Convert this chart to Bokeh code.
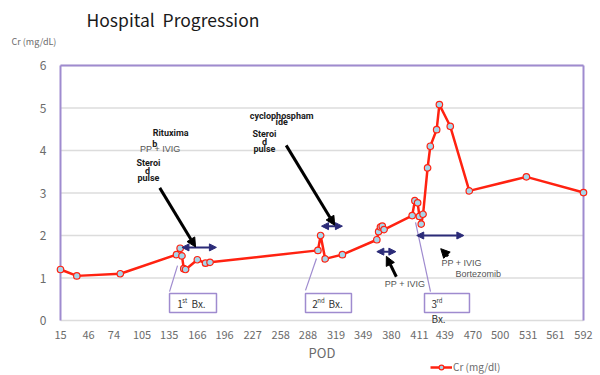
from bokeh.plotting import figure
from bokeh.embed import file_html
from bokeh.resources import INLINE
from bokeh.models import (FixedTicker, Label, Arrow, NormalHead, Legend, LegendItem,
                          ColumnDataSource, Range1d)
from bokeh.core.properties import value

# ---- data ----
pod = [15, 33, 81, 143, 147, 149, 151, 153, 166, 175, 180, 299, 302, 307, 326,
       364, 366, 368, 370, 372, 403, 406, 409, 411, 413, 415, 420, 423, 430, 433,
       445, 466, 529, 592]
cr = [1.2, 1.05, 1.1, 1.55, 1.7, 1.52, 1.22, 1.2, 1.43, 1.35, 1.37, 1.65, 2.0, 1.45, 1.55,
      1.9, 2.09, 2.2, 2.22, 2.14, 2.47, 2.82, 2.77, 2.45, 2.27, 2.5, 3.59, 4.1, 4.49, 5.08,
      4.57, 3.05, 3.38, 3.01]
x_ticks = [15, 46, 74, 105, 135, 166, 196, 227, 258, 288, 319, 349, 380, 411, 439,
           470, 500, 531, 561, 592]
y_ticks = [0, 1, 2, 3, 4, 5, 6]
x_min, x_max = 15, 592
y_min, y_max = 0, 6

# treatment periods (double arrows): start, end, level
period_start = [149, 303, 364, 408]
period_end = [187, 326, 385, 460]
period_level = [1.72, 2.22, 1.62, 2.0]

# pointer arrows: from (x0,y0) to (x1,y1)
ptr_x0 = [124.5, 264, 385.5, 442.5]
ptr_y0 = [3.12, 4.12, 1.03, 1.51]
ptr_x1 = [164, 317.5, 374.5, 434.5]
ptr_y1 = [1.73, 2.24, 1.51, 1.69]

# drug annotation texts
drug_text = ["Rituxima", "b", "Steroi", "d", "pulse",
             "cyclophospham", "ide", "Steroi", "d", "pulse"]
drug_x = [136.5, 119, 112, 111, 112, 259, 259, 240, 240, 240]
drug_y = [4.42, 4.16, 3.70, 3.51, 3.35, 4.82, 4.66, 4.39, 4.21, 4.03]

pp_text = ["PP + IVIG", "PP + IVIG", "PP + IVIG", "Bortezomib"]
pp_x = [125, 395, 457.5, 476]
pp_y = [4.04, 0.86, 1.36, 1.10]

# biopsy boxes
bx_left = [135.3, 285.3, 416.6]
bx_right = [187.1, 336.0, 466.2]
bx_bottom = [0.19, 0.19, 0.19]
bx_top = [0.635, 0.635, 0.635]
bx_num = ["1", "2", "3"]
bx_num_x = [143.7, 292.7, 424.3]
bx_sup = ["st", "nd", "rd"]
bx_sup_x = [149.3, 298.3, 429.8]
bx_word = ["Bx.", "Bx.", "Bx."]
bx_word_x = [159.5, 310.7, 424.3]
bx_word_y = [0.39, 0.39, 0.05]
# leader lines from boxes to curve
lead_x0 = [135.3, 285.3, 423.2]
lead_y0 = [0.68, 0.71, 0.68]
lead_x1 = [144.1, 297.4, 406.7]
lead_y1 = [1.29, 1.46, 2.31]

PURPLE = "#9f8bcf"
NAVY = "#2b2b78"
RED = "#ff2211"
GRAY = "#6b6b6b"
FONT = "Noto Sans CJK KR"

PX_PER_UNIT = 42.5            # vertical pixels per mg/dL
PX_PER_DAY = 523 / (x_max - x_min)
p = figure(width=600, height=375, output_backend="svg", toolbar_location=None,
           x_range=Range1d(x_min - 60 / PX_PER_DAY, x_max + 17 / PX_PER_DAY),
           y_range=Range1d(y_min - 55 / PX_PER_UNIT, y_max + 65 / PX_PER_UNIT),
           min_border_left=0, min_border_right=0, min_border_top=0, min_border_bottom=0)
p.outline_line_color = None
p.background_fill_color = "white"

# axes (fixed inside the full-canvas frame)
p.xaxis.fixed_location = y_min
p.yaxis.fixed_location = x_min
p.xaxis.ticker = FixedTicker(ticks=x_ticks)
p.yaxis.ticker = FixedTicker(ticks=y_ticks)
for ax in (p.xaxis[0], p.yaxis[0]):
    ax.major_tick_line_color = None
    ax.minor_tick_line_color = None
    ax.axis_line_color = None
    ax.major_label_text_color = GRAY
    ax.major_label_text_font = FONT
p.xaxis.major_label_text_font_size = "11px"
p.yaxis.major_label_text_font_size = "12px"
p.xaxis.major_label_standoff = 4
p.yaxis.major_label_standoff = 8
p.xgrid.visible = False
p.ygrid.visible = False

# horizontal gridlines (within the plot box)
p.segment(x0=[x_min] * len(y_ticks), y0=y_ticks, x1=[x_max] * len(y_ticks), y1=y_ticks,
          line_color="#dcdcdc", line_width=1.5)

# purple frame (left, right, top)
p.segment(x0=[x_min, x_max, x_min], y0=[y_min, y_min, y_max],
          x1=[x_min, x_max, x_max], y1=[y_max, y_max, y_max],
          line_color=PURPLE, line_width=2)

# leader lines
p.segment(x0=lead_x0, y0=lead_y0, x1=lead_x1, y1=lead_y1, line_color=PURPLE, line_width=1.2)

# biopsy boxes
p.quad(left=bx_left, right=bx_right, bottom=bx_bottom, top=bx_top,
       fill_color="white", line_color=PURPLE, line_width=1.5)
p.text(x=bx_num_x, y=[0.39, 0.39, 0.39], text=bx_num, text_font=value(FONT),
       text_font_size="10px", text_color="#333333", text_baseline="middle", text_align="left")
p.text(x=bx_sup_x, y=[0.47, 0.47, 0.47], text=bx_sup, text_font=value(FONT),
       text_font_size="6px", text_color="#333333", text_baseline="middle", text_align="left")
p.text(x=bx_word_x, y=bx_word_y, text=bx_word, text_font=value(FONT),
       text_font_size="10px", text_color="#333333", text_baseline="middle", text_align="left")

# data line
src = ColumnDataSource(dict(pod=pod, cr=cr))
ln = p.line("pod", "cr", source=src, line_color=RED, line_width=2.5)
sc = p.scatter("pod", "cr", source=src, size=6.5, fill_color="#a6d6ea",
               line_color=RED, line_width=1.2)

# period double arrows
for s, e, lv in zip(period_start, period_end, period_level):
    p.add_layout(Arrow(x_start=s, y_start=lv, x_end=e, y_end=lv,
                       line_color=NAVY, line_width=2,
                       start=NormalHead(size=7, fill_color=NAVY, line_color=NAVY),
                       end=NormalHead(size=7, fill_color=NAVY, line_color=NAVY)))

# pointer arrows
for a, b, c, d in zip(ptr_x0, ptr_y0, ptr_x1, ptr_y1):
    p.add_layout(Arrow(x_start=a, y_start=b, x_end=c, y_end=d,
                       line_color="black", line_width=3,
                       end=NormalHead(size=9, fill_color="black", line_color="black")))

# texts
p.text(x=pp_x, y=pp_y, text=pp_text, text_font=value("Liberation Sans"),
       text_font_size="9px", text_color="#555555", text_align="center", text_baseline="middle")
p.text(x=drug_x, y=drug_y, text=drug_text, text_font=value("Roboto"),
       text_font_style="bold", text_font_size="9px", text_color="#1a1a1a",
       text_align="center", text_baseline="middle")

# title, y unit label, x axis title
p.add_layout(Label(x=43.7, y=y_max + 46 / PX_PER_UNIT, text="Hospital\u00a0\u00a0Progression",
                   text_font=FONT, text_font_size="17.5px", text_color="#1a1a1a",
                   text_baseline="middle"))
p.add_layout(Label(x=x_min, x_offset=-49, y=y_max + 24 / PX_PER_UNIT, text="Cr (mg/dL)",
                   text_font=FONT, text_font_size="9px", text_color=GRAY,
                   text_baseline="middle"))
p.add_layout(Label(x=(x_min + x_max) / 2, y=y_min - 32 / PX_PER_UNIT, text="POD",
                   text_font=FONT, text_font_size="13px", text_color=GRAY,
                   text_align="center", text_baseline="middle"))

# legend
legend = Legend(items=[LegendItem(label="Cr (mg/dl)", renderers=[ln, sc])],
                location=(430, 1), orientation="horizontal",
                background_fill_alpha=0, border_line_color=None,
                padding=0, margin=0, spacing=0, glyph_width=22, glyph_height=12,
                label_height=12, label_standoff=1,
                label_text_font=FONT, label_text_font_size="10px", label_text_color=GRAY)
p.add_layout(legend, "center")

open("out.html", "w").write(file_html(p, INLINE))
